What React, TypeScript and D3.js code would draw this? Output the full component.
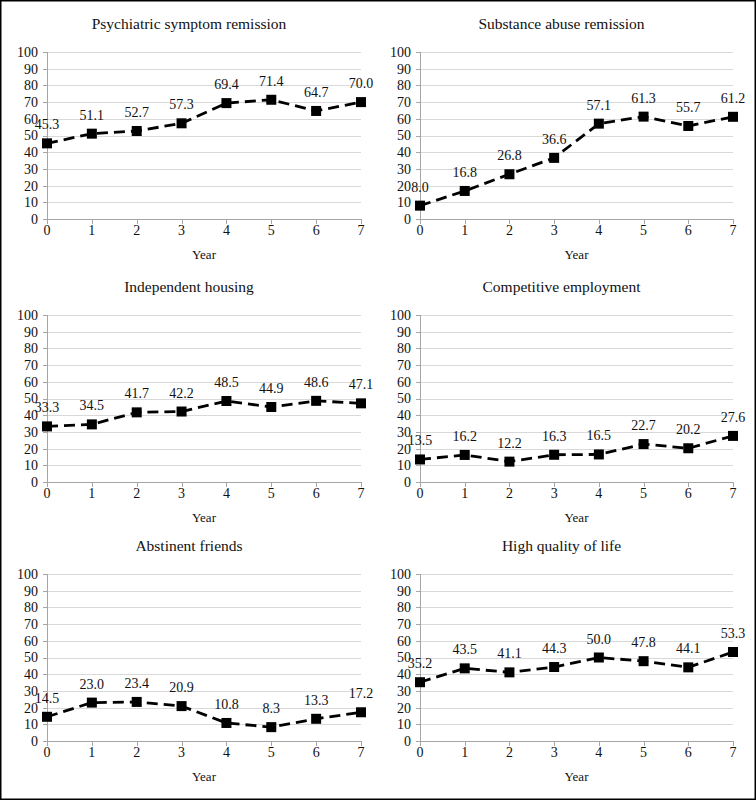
import React from "react";
import * as d3 from "d3";

const years = [0, 1, 2, 3, 4, 5, 6, 7];
const yTicks = [0, 10, 20, 30, 40, 50, 60, 70, 80, 90, 100];

const titles = [
  "Psychiatric symptom remission",
  "Substance abuse remission",
  "Independent housing",
  "Competitive employment",
  "Abstinent friends",
  "High quality of life",
];

const psychiatric = [45.3, 51.1, 52.7, 57.3, 69.4, 71.4, 64.7, 70.0];
const substance = [8.0, 16.8, 26.8, 36.6, 57.1, 61.3, 55.7, 61.2];
const housing = [33.3, 34.5, 41.7, 42.2, 48.5, 44.9, 48.6, 47.1];
const employment = [13.5, 16.2, 12.2, 16.3, 16.5, 22.7, 20.2, 27.6];
const friends = [14.5, 23.0, 23.4, 20.9, 10.8, 8.3, 13.3, 17.2];
const quality = [35.2, 43.5, 41.1, 44.3, 50.0, 47.8, 44.1, 53.3];

const series = [psychiatric, substance, housing, employment, friends, quality];

const W = 756;
const H = 800;
const colX = [
  [47, 361],
  [420, 733],
];
const rowTop = [52, 315, 574];
const plotH = 167;
const FONT = "'Liberation Serif', 'Times New Roman', serif";

function Panel({ idx }: { idx: number }) {
  const col = idx % 2;
  const row = Math.floor(idx / 2);
  const [x0, x1] = colX[col];
  const top = rowTop[row];
  const bottom = top + plotH;
  const x = d3.scaleLinear().domain([0, 7]).range([x0, x1]);
  const y = d3.scaleLinear().domain([0, 100]).range([bottom, top]);
  const data = series[idx];
  const line = d3
    .line<number>()
    .x((_, i) => x(years[i]))
    .y((d) => y(d));
  const axisColor = "#a6a6a6";
  const gridColor = "#d9d9d9";
  return (
    <g>
      <text
        x={(x0 + x1) / 2 - 15}
        y={top - 23}
        textAnchor="middle"
        fontSize={15.5}
        fontFamily={FONT}
        fill="#111"
      >
        {titles[idx]}
      </text>
      {yTicks.map((t) =>
        t === 0 ? null : (
          <line
            key={"g" + t}
            x1={x0}
            x2={x1}
            y1={Math.round(y(t)) + 0.5}
            y2={Math.round(y(t)) + 0.5}
            stroke={gridColor}
            strokeWidth={1}
          />
        )
      )}
      {yTicks.map((t) => (
        <g key={"y" + t}>
          <line
            x1={x0 - 4}
            x2={x0}
            y1={Math.round(y(t)) + 0.5}
            y2={Math.round(y(t)) + 0.5}
            stroke={axisColor}
          />
          <text
            x={x0 - 9}
            y={y(t)}
            dy="0.35em"
            textAnchor="end"
            fontSize={14}
            fontFamily={FONT}
            fill="#111"
          >
            {t}
          </text>
        </g>
      ))}
      <line
        x1={x0 + 0.5}
        x2={x0 + 0.5}
        y1={top}
        y2={bottom}
        stroke={axisColor}
      />
      <line
        x1={x0}
        x2={x1}
        y1={Math.round(bottom) + 0.5}
        y2={Math.round(bottom) + 0.5}
        stroke={axisColor}
      />
      {years.map((yr) => (
        <g key={"x" + yr}>
          <line
            x1={Math.round(x(yr)) + 0.5}
            x2={Math.round(x(yr)) + 0.5}
            y1={bottom}
            y2={bottom + 5}
            stroke={axisColor}
          />
          <text
            x={x(yr)}
            y={bottom + 16}
            textAnchor="middle"
            fontSize={14}
            fontFamily={FONT}
            fill="#111"
          >
            {yr}
          </text>
        </g>
      ))}
      <text
        x={(x0 + x1) / 2}
        y={bottom + 40}
        textAnchor="middle"
        fontSize={13}
        fontFamily={FONT}
        fill="#111"
      >
        Year
      </text>
      <path
        d={line(data) || ""}
        fill="none"
        stroke="#000"
        strokeWidth={2.8}
        strokeDasharray="11,6"
      />
      {data.map((v, i) => (
        <rect
          key={"m" + i}
          x={x(years[i]) - 5}
          y={y(v) - 5}
          width={10}
          height={10}
          fill="#000"
        />
      ))}
      {data.map((v, i) => (
        <text
          key={"l" + i}
          x={x(years[i])}
          y={y(v) - 14}
          textAnchor="middle"
          fontSize={14}
          fontFamily={FONT}
          fill="#111"
        >
          {v.toFixed(1)}
        </text>
      ))}
    </g>
  );
}

export default function App() {
  return (
    <svg
      width={W}
      height={H}
      style={{ position: "absolute", left: 0, top: 0, background: "#fff" }}
    >
      <rect x={0} y={0} width={W} height={H} fill="#fff" />
      {titles.map((_, i) => (
        <Panel key={i} idx={i} />
      ))}
      <rect
        x={0.75}
        y={0.75}
        width={W - 1.5}
        height={H - 1.5}
        fill="none"
        stroke="#000"
        strokeWidth={1.5}
      />
    </svg>
  );
}
